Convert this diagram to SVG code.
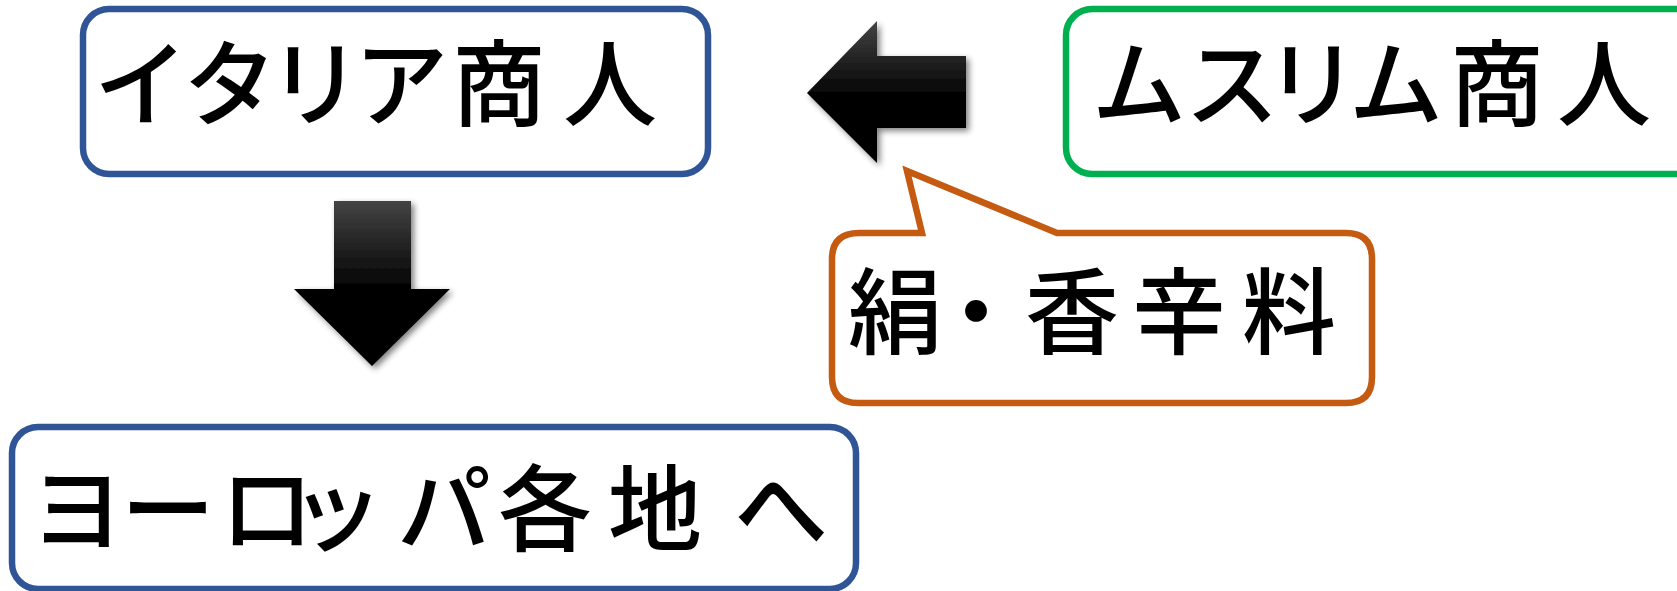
<svg xmlns="http://www.w3.org/2000/svg" width="1677" height="591" viewBox="0 0 1677 591">
<style>
.box{fill:#fff;stroke-width:6.5}
.blue{stroke:#2F5597}
.green{stroke:#00B050}
.orange{stroke:#C55A11;fill:#fff;stroke-width:6.5;stroke-linejoin:miter}
.t{font-family:"Noto Sans CJK JP","Noto Sans CJK SC",sans-serif;font-size:94px;font-weight:500;fill:#000;text-anchor:middle;dominant-baseline:central}
</style>
<defs>
<linearGradient id="gd" x1="0" y1="0" x2="0" y2="1">
<stop offset="0" stop-color="#444"/>
<stop offset="0.55" stop-color="#000"/>
<stop offset="1" stop-color="#000"/>
</linearGradient>
<filter id="sh" x="-20%" y="-20%" width="150%" height="150%">
<feGaussianBlur in="SourceAlpha" stdDeviation="3"/>
<feOffset dx="3" dy="3"/>
<feComponentTransfer><feFuncA type="linear" slope="0.5"/></feComponentTransfer>
<feMerge><feMergeNode/><feMergeNode in="SourceGraphic"/></feMerge>
</filter>
</defs>
<g id="connectors">
<path id="arrow-left" d="M807,93 L877,21 L877,56 L966,56 L966,128 L877,128 L877,163 Z" fill="url(#gd)" filter="url(#sh)"/>
<path id="arrow-down" d="M334,201 L411,201 L411,289 L450,289 L372,366 L294,289 L334,289 Z" fill="url(#gd)" filter="url(#sh)"/>
</g>
<g id="italy">
<rect class="box blue" x="83" y="9" width="625" height="165" rx="26"/>
<text class="t" x="141 230 315 401 499 610" y="78">イタリア商人</text>
</g>
<g id="muslim">
<rect class="box green" x="1066" y="9" width="640" height="165" rx="26"/>
<text class="t" x="1139 1232 1312 1396 1497 1604" y="78">ムスリム商人</text>
</g>
<g id="goods">
<path class="orange" d="M859,233 L922,233 L907,171 L1057,233 L1346,233 Q1372,233 1372,259 L1372,377 Q1372,403 1346,403 L858,403 Q832,403 832,377 L832,259 Q832,233 859,233 Z"/>
<text class="t" x="895 976 1072 1179 1289" y="306">絹・香辛料</text>
</g>
<g id="europe">
<rect class="box blue" x="12" y="427" width="844" height="162" rx="26"/>
<text class="t" x="77 168 267 337 444 545 655 781" y="503">ヨーロッパ各地へ</text>
</g>
</svg>
